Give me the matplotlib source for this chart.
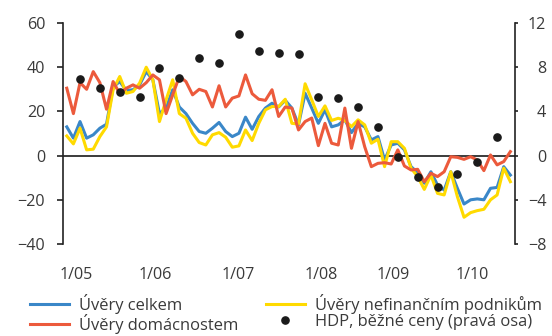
import matplotlib
matplotlib.use("Agg")
import matplotlib.pyplot as plt
import numpy as np

plt.rcParams['font.family'] = ['Open Sans', 'DejaVu Sans']

# monthly series 1/05 .. 8/10 (y/y growth, %)
uvery_celkem = [13, 7.9, 15.4, 7.9, 9.4, 12.4, 14.2, 31, 33.5, 29.5, 29.8, 32,
                38, 34.3, 19, 21.5, 29.8, 22, 19, 14.6, 10.9, 10.1, 12.4, 15,
                10.9, 8.6, 10.1, 17.4, 11.9, 17.7, 21.5, 23.7, 22, 25, 21.5, 13.9,
                28.2, 21.5, 14.6, 20.7, 13, 13.9, 16.2, 10.4, 14.6, 13, 7.1, 8.6,
                -2, 4.8, 5.6, 2.6, -5, -7.7, -12.5, -7.3, -13.3, -15.6, -7.3, -14.8,
                -21.9, -20, -19.6, -20, -14.8, -14.4, -5, -8.8]
uvery_domacnostem = [30.5, 19, 33, 30, 38, 33, 21, 33.5, 28, 30.5, 32, 30.5,
                     33, 36.5, 34.3, 19, 27.5, 35.8, 33.5, 27.5, 30, 29, 22, 31.6,
                     22, 26, 27, 36.5, 28, 25.5, 25, 29.8, 17.7, 22, 21.5, 11.6,
                     15.4, 17, 4.5, 14.6, 5.6, 4.8, 21.5, 3.3, 15.4, 4, -5, -3.5,
                     -3.2, -3.8, 2.6, -4.7, -6.5, -6.2, -11.8, -8, -9.5, -7.3, -0.5, -0.8,
                     -1.7, -0.5, -2, -6.8, 0.3, -4.2, -2.7, 1.8]
uvery_podnikum = [8.9, 5.3, 12.4, 2.6, 2.9, 8.6, 13, 29.8, 35.8, 28.2, 29, 32.8,
                  40, 34.3, 15.4, 25.2, 34.3, 19, 16.9, 10.1, 5.9, 4.8, 9.4, 10.4,
                  8.3, 3.8, 4.4, 11.6, 6.8, 14.6, 20.7, 22.2, 22.2, 25.5, 14.6, 14.3,
                  32.5, 25.2, 17.7, 22.5, 15.9, 16.9, 15.9, 13.1, 16.2, 13.9, 5.6, 7.4,
                  -5, 6.3, 6.3, 3.3, -5.7, -9.5, -15.3, -8.8, -17.1, -17.8, -7.3, -18.6,
                  -27.9, -25.8, -24.9, -24.3, -20, -17.8, -5.7, -11.8]
# quarterly GDP, nominal (right axis), Q1 2005 .. Q2 2010
hdp = [6.9, 6.1, 5.8, 5.3, 7.9, 7.0, 8.8, 8.4, 11.0, 9.5, 9.3, 9.2,
       5.3, 5.2, 4.4, 2.6, -0.1, -1.9, -2.8, -1.7, -0.6, 1.7]

xtick_labels = ['1/05', '1/06', '1/07', '1/08', '1/09', '1/10']
xtick_pos = [1.4, 13.4, 25.9, 38.5, 49.3, 61.3]

labels = ['Úvěry celkem', 'Úvěry domácnostem', 'Úvěry nefinančním podnikům',
          'HDP, běžné ceny (pravá osa)']

c_blue = '#3A87C8'
c_red = '#EC5A3C'
c_yellow = '#FFDA00'
c_text = '#3a3a3a'
c_axis = '#222222'
fs = 11.6
fs_leg = 11.9

fig = plt.figure(figsize=(5.52, 3.36), dpi=100)
ax = fig.add_axes([63/552, 1-244/336, (515-63)/552, (244-23)/336])
ax2 = ax.twinx()

m = np.arange(len(uvery_celkem))
q = np.arange(len(hdp)) * 3 + 2

l1, = ax.plot(m, uvery_celkem, color=c_blue, lw=2.2, zorder=3)
l3, = ax.plot(m, uvery_podnikum, color=c_yellow, lw=2.2, zorder=4)
l2, = ax.plot(m, uvery_domacnostem, color=c_red, lw=2.2, zorder=5)
ax.axhline(0, color='#1a1a1a', lw=1.2, zorder=2)

ax.set_xlim(-0.57, 67.7)
ax.set_ylim(-40, 60)
ax.set_yticks([-40, -20, 0, 20, 40, 60])
ax2.set_ylim(-8, 12)
ax2.set_yticks([-8, -4, 0, 4, 8, 12])

ax.set_xticks(xtick_pos)
ax.set_xticklabels(xtick_labels)

for a in (ax, ax2):
    for s in ('top', 'bottom'):
        a.spines[s].set_visible(False)
ax.tick_params(axis='y', direction='out', length=4.3, width=1.2, colors=c_axis,
               labelcolor=c_text, labelsize=fs, pad=8.6)
ax2.tick_params(axis='y', direction='out', length=2.3, width=1.2, colors=c_axis,
                labelcolor=c_text, labelsize=fs, pad=20.2)
for t in ax2.get_yticklabels():
    t.set_horizontalalignment('right')
ax.spines['left'].set_color(c_axis)
ax.spines['left'].set_linewidth(1.2)
ax.spines['right'].set_visible(False)
ax2.spines['left'].set_visible(False)
ax2.spines['right'].set_color(c_axis)
ax2.spines['right'].set_linewidth(1.2)
ax.tick_params(axis='x', length=0, labelsize=fs, labelcolor=c_text, pad=16.8)

ax.set_zorder(ax2.get_zorder() + 1)
ax.patch.set_visible(False)
l4, = ax.plot(q, hdp, 'o', color='#1a1a1a', ms=5.2, zorder=6, transform=ax2.transData)

leg = fig.legend([l1, l2, l3, l4], labels, ncol=2, loc='upper left',
                 bbox_to_anchor=(30/552, 1-294/336), frameon=False,
                 fontsize=fs_leg, handlelength=2.35, handletextpad=0.6,
                 columnspacing=1.68, labelspacing=0.0, borderpad=0, borderaxespad=0)
for t in leg.get_texts():
    t.set_color(c_text)

fig.savefig('out.png', dpi=100)
